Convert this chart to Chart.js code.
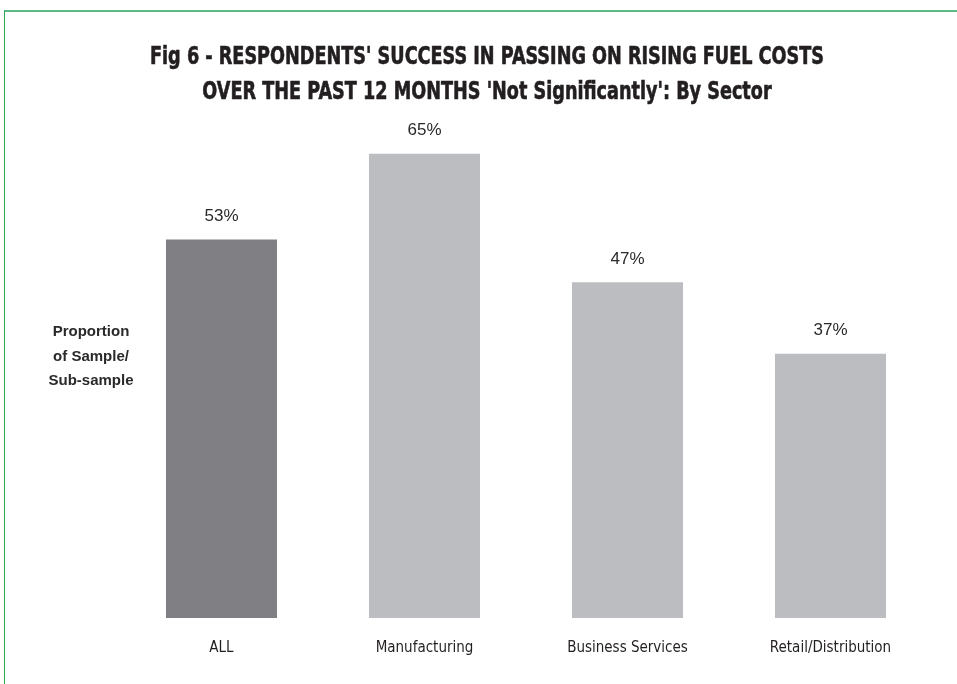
<!DOCTYPE html>
<html>
<head>
<meta charset="utf-8">
<script src="https://cdn.jsdelivr.net/npm/chart.js@4/dist/chart.umd.min.js"></script>
<style>
  html, body { margin: 0; padding: 0; background: #ffffff; }
  #wrap { position: relative; width: 957px; height: 684px; overflow: hidden; }
  #frame { position: absolute; left: 4px; top: 10px; right: -2px; bottom: -2px;
           border-top: 2px solid #5cb985; border-left: 1px solid #2ea653; }
  canvas { position: absolute; left: 0; top: 0; }
</style>
</head>
<body>
<div id="wrap">
  <div id="frame"></div>
  <canvas id="chart" width="957" height="684"></canvas>
</div>
<script>
// Share of respondents answering 'Not Significantly', by sector
const sectors = ['ALL', 'Manufacturing', 'Business Services', 'Retail/Distribution'];
const notSignificantlyPct = [53, 65, 47, 37];
const barColours = ['#808084', '#bcbdc1', '#bcbdc1', '#bcbdc1'];
const titleLines = [
  "Fig 6 - RESPONDENTS' SUCCESS IN PASSING ON RISING FUEL COSTS",
  "OVER THE PAST 12 MONTHS 'Not Significantly': By Sector"
];
const axisCaption = ['Proportion', 'of Sample/', 'Sub-sample'];

const narrow = '"Liberation Sans Narrow", "Arial Narrow", "DejaVu Sans Condensed", sans-serif';
const sans = '"Liberation Sans", Arial, Helvetica, sans-serif';

// Condensed bold heading, squeezed horizontally to a fixed line width
const heading = {
  id: 'heading',
  afterDraw(chart) {
    const ctx = chart.ctx;
    const cx = 487, firstY = 58, lineGap = 35, firstWidth = 674;
    ctx.save();
    ctx.font = 'bold 24px "DejaVu Sans Condensed", ' + narrow;
    ctx.fillStyle = '#231f20';
    ctx.strokeStyle = '#231f20';
    ctx.lineWidth = 0.6;
    ctx.textAlign = 'center';
    ctx.textBaseline = 'middle';
    const sx = firstWidth / ctx.measureText(titleLines[0]).width;
    titleLines.forEach((line, i) => {
      ctx.save();
      ctx.translate(cx, firstY + i * lineGap);
      ctx.scale(sx, 1);
      ctx.fillText(line, 0, 0);
      ctx.strokeText(line, 0, 0);
      ctx.restore();
    });
    ctx.restore();
  }
};

// Percentage labels above each bar
const valueLabels = {
  id: 'valueLabels',
  afterDatasetsDraw(chart) {
    const ctx = chart.ctx;
    const meta = chart.getDatasetMeta(0);
    ctx.save();
    ctx.font = '17px ' + sans;
    ctx.fillStyle = '#2a2a2a';
    ctx.textAlign = 'center';
    ctx.textBaseline = 'middle';
    meta.data.forEach((bar, i) => {
      ctx.fillText(notSignificantlyPct[i] + '%', bar.x, bar.y - 23);
    });
    ctx.restore();
  }
};

// Horizontal caption to the left of the bars
const sideCaption = {
  id: 'sideCaption',
  afterDraw(chart) {
    const ctx = chart.ctx;
    ctx.save();
    ctx.font = 'bold 15px ' + sans;
    ctx.fillStyle = '#2a2a2a';
    ctx.textAlign = 'center';
    ctx.textBaseline = 'middle';
    axisCaption.forEach((line, i) => {
      ctx.fillText(line, 91, 332 + i * 24.5);
    });
    ctx.restore();
  }
};

new Chart(document.getElementById('chart'), {
  type: 'bar',
  data: {
    labels: sectors,
    datasets: [{
      data: notSignificantlyPct,
      backgroundColor: barColours,
      borderWidth: 0,
      barPercentage: 0.547,
      categoryPercentage: 1.0
    }]
  },
  options: {
    responsive: false,
    animation: false,
    layout: { padding: { left: 120, right: 25, top: 118, bottom: 6 } },
    plugins: {
      legend: { display: false },
      tooltip: { enabled: false },
      title: { display: false }
    },
    scales: {
      x: {
        grid: { display: false, drawTicks: false },
        border: { display: false },
        ticks: { color: '#231f20', font: { family: narrow, size: 15 }, padding: 21 }
      },
      y: {
        display: false,
        min: 0,
        max: 70
      }
    }
  },
  plugins: [valueLabels, sideCaption, heading]
});
</script>
</body>
</html>
